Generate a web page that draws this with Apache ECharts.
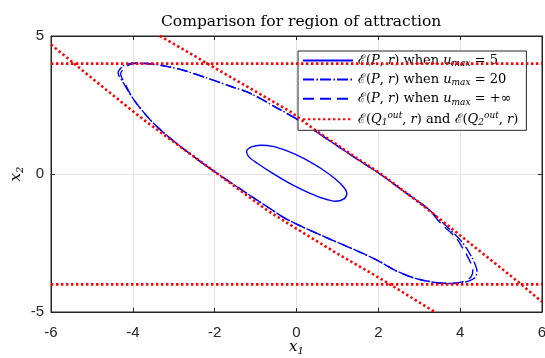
<!DOCTYPE html>
<html>
<head>
<meta charset="utf-8">
<script src="https://cdn.jsdelivr.net/npm/echarts@6/dist/echarts.min.js"></script>
<style>
  html, body { margin: 0; padding: 0; background: #fff; }
  #chart { width: 545px; height: 358px; }
</style>
</head>
<body>
<div id="chart"></div>
<script>
// Region estimates, [x1, x2] points along each boundary curve.
const smallLoop = [
  [0.20, 0.55], [0.60, 0.20], [0.95, -0.18], [1.15, -0.47], [1.23, -0.70],
  [1.16, -0.90], [0.95, -0.99], [0.62, -0.87], [0.20, -0.61], [-0.20, -0.31],
  [-0.60, 0.04], [-0.95, 0.38], [-1.17, 0.63], [-1.22, 0.82], [-1.10, 0.98],
  [-0.88, 1.04], [-0.58, 1.00], [-0.20, 0.82], [0.20, 0.55]
];

// Both large boundaries are traced from (0, 2) along the upper-left side first.
const loop20 = [
  [0.00, 2.00], [-0.40, 2.33], [-1.14, 2.93], [-1.60, 3.17], [-2.19, 3.48],
  [-2.77, 3.76], [-3.17, 3.90], [-3.50, 3.98], [-3.90, 4.02], [-4.22, 3.93],
  [-4.36, 3.66], [-4.23, 3.30], [-3.99, 2.72], [-3.58, 1.97], [-3.09, 1.30],
  [-2.52, 0.64], [-1.95, 0.03], [-0.65, -1.25], [-0.20, -1.67], [0.74, -2.31],
  [1.55, -2.83], [2.04, -3.18], [2.41, -3.49], [2.90, -3.78], [3.46, -3.95],
  [3.85, -3.97], [4.20, -3.88], [4.37, -3.74], [4.41, -3.50], [4.36, -3.25],
  [4.27, -2.98], [4.14, -2.66], [3.98, -2.35], [3.60, -1.80], [3.22, -1.27],
  [2.60, -0.60], [2.04, 0.00], [1.47, 0.55], [0.45, 1.56], [0.00, 2.00]
];

const loopInf = [
  [0.00, 2.00], [-0.40, 2.33], [-1.14, 2.93], [-1.60, 3.17], [-2.19, 3.48],
  [-2.77, 3.76], [-3.17, 3.90], [-3.50, 3.97], [-3.85, 4.01], [-4.12, 3.93],
  [-4.30, 3.62], [-4.20, 3.30], [-3.99, 2.72], [-3.58, 1.97], [-3.09, 1.30],
  [-2.52, 0.64], [-1.95, 0.03], [-0.65, -1.25], [-0.20, -1.67], [0.74, -2.31],
  [1.55, -2.83], [2.04, -3.18], [2.41, -3.49], [2.90, -3.78], [3.46, -3.94],
  [3.83, -3.96], [4.14, -3.86], [4.27, -3.72], [4.31, -3.48], [4.26, -3.23],
  [4.16, -2.93], [4.04, -2.63], [3.91, -2.33], [3.51, -1.76], [3.22, -1.27],
  [2.60, -0.60], [2.04, 0.00], [1.47, 0.55], [0.45, 1.56], [0.00, 2.00]
];

// Outer ellipses: flat one (x2 = ±4) and the slanted one
const q1Top = [[-6, 4.0], [-3, 4.0], [0, 4.0], [3, 4.0], [6, 4.0]];
const q1Bottom = [[-6, -4.0], [-3, -4.0], [0, -4.0], [3, -4.0], [6, -4.0]];
const q2Upper = [
  [-3.34, 5.00], [-2.75, 4.50], [-2.20, 4.02], [-0.16, 2.27], [0.41, 1.64],
  [1.47, 0.58], [2.04, 0.03], [3.02, -1.06], [4.30, -2.58], [5.46, -3.96], [6.00, -4.63]
];
const q2Lower = [
  [-6.00, 4.69], [-4.90, 3.35], [-3.74, 1.97], [-2.85, 1.00], [-1.95, 0.03],
  [-0.73, -1.30], [-0.20, -1.80], [0.98, -2.87], [2.20, -3.92], [3.38, -5.00]
];

const legendLabels = {
  u5: '{e|ℰ}{t|(}{i|P}{t|, }{i|r}{t|) when }{i|u}{s|max}{t| = 5}',
  u20: '{e|ℰ}{t|(}{i|P}{t|, }{i|r}{t|) when }{i|u}{s|max}{t| = 20}',
  uinf: '{e|ℰ}{t|(}{i|P}{t|, }{i|r}{t|) when }{i|u}{s|max}{t| = +∞}',
  q: '{e|ℰ}{t|(}{i|Q}{s|1}{p|out}{t|, }{i|r}{t|) and }{e|ℰ}{t|(}{i|Q}{s|2}{p|out}{t|, }{i|r}{t|)}'
};

const SERIF = 'DejaVu Serif';
const SANS = 'Liberation Sans';
const INK = '#262626';
const BLUE = '#0000ff';
const RED = '#ff0000';

function mathStyles(size) {
  const sub = Math.round(size * 0.68);
  const off = Math.round(size * 0.55);
  return {
    t: { fontFamily: SERIF, fontSize: size, color: '#000' },
    e: { fontFamily: SERIF, fontSize: size, color: '#000' },
    i: { fontFamily: SERIF, fontSize: size, fontStyle: 'italic', color: '#000' },
    s: { fontFamily: SERIF, fontSize: sub, fontStyle: 'italic', color: '#000', padding: [off, 0, 0, 0] },
    p: { fontFamily: SERIF, fontSize: sub, fontStyle: 'italic', color: '#000', padding: [0, 0, off, 0] }
  };
}

function curve(name, data, color, type, width) {
  return {
    name: name, type: 'line', data: data, smooth: 0.3,
    symbol: 'none', clip: true, z: 3,
    lineStyle: { color: color, type: type, width: width },
    itemStyle: { color: color }
  };
}

// Dash and dash-dot share a 17px period so they stay in step where the curves coincide.
const dots = [2.4, 2.6];
const series = [
  curve('u5', smallLoop, BLUE, 'solid', 1.4),
  curve('u20', loop20, BLUE, [11, 2.5, 1.5, 2], 1.4),
  curve('uinf', loopInf, BLUE, [11, 6], 1.4),
  curve('q', q1Top, RED, dots, 2.6),
  curve('q', q1Bottom, RED, dots, 2.6),
  curve('q', q2Upper, RED, dots, 2.6),
  curve('q', q2Lower, RED, dots, 2.6)
];
series.slice(3).forEach(s => { s.smooth = false; s.z = 4; });

const frameAxis = {
  axisLine: { onZero: false, lineStyle: { color: INK } },
  axisTick: { inside: true, length: 4, lineStyle: { color: INK } }
};

const chart = echarts.init(document.getElementById('chart'), null, { renderer: 'canvas' });
chart.setOption({
  animation: false,
  backgroundColor: '#fff',
  title: {
    text: 'Comparison for region of attraction',
    left: 156, top: 9,
    textStyle: { fontFamily: SERIF, fontSize: 15.5, fontWeight: 'normal', color: '#000' }
  },
  grid: {
    left: 51, right: 3, top: 36, bottom: 46,
    outerBoundsMode: 'none', containLabel: false,
    show: true, borderColor: INK, borderWidth: 1, backgroundColor: 'transparent'
  },
  legend: {
    orient: 'vertical',
    left: 298, top: 51,
    data: ['u5', 'u20', 'uinf', 'q'],
    formatter: name => legendLabels[name],
    textStyle: { rich: mathStyles(13) },
    itemWidth: 50, itemHeight: 14, itemGap: 4.6,
    itemStyle: { opacity: 0 },
    backgroundColor: '#fff', borderColor: INK, borderWidth: 1,
    padding: [3, 8, 3, 4],
    selectedMode: false
  },
  xAxis: [Object.assign({
    type: 'value', min: -6, max: 6, interval: 2,
    name: '{i|x}{s|1}', nameLocation: 'middle', nameGap: 26, nameMoveOverlap: false,
    nameTextStyle: { rich: mathStyles(15) },
    axisLabel: { fontFamily: SANS, fontSize: 15, color: INK, margin: 13 },
    splitLine: { lineStyle: { color: '#e3e3e3' } }
  }, frameAxis), Object.assign({
    type: 'value', min: -6, max: 6, interval: 2, position: 'top',
    axisLabel: { show: false }, splitLine: { show: false }
  }, frameAxis)],
  yAxis: [Object.assign({
    type: 'value', min: -5, max: 5, interval: 5,
    name: '{i|x}{s|2}', nameLocation: 'middle', nameGap: 26, nameMoveOverlap: false,
    nameTextStyle: { rich: mathStyles(15) },
    axisLabel: { fontFamily: SANS, fontSize: 15, color: INK, margin: 7 },
    splitLine: { lineStyle: { color: '#e3e3e3' } }
  }, frameAxis), Object.assign({
    type: 'value', min: -5, max: 5, interval: 5, position: 'right',
    axisLabel: { show: false }, splitLine: { show: false }
  }, frameAxis)],
  series: series
});
</script>
</body>
</html>
